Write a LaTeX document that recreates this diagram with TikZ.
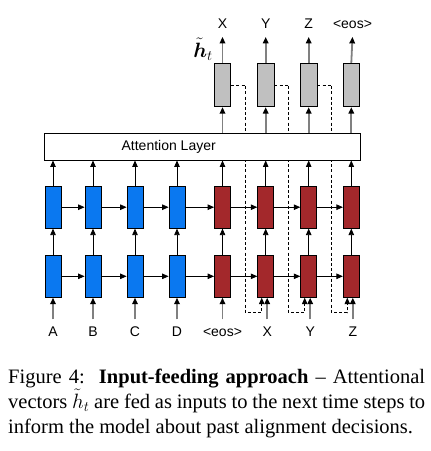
\documentclass[tikz,border=0pt]{standalone}
\usepackage{fontspec}
\usepackage{bm}
\setmainfont{Liberation Serif}
\newfontfamily\diagfont{Liberation Sans}
\usetikzlibrary{arrows.meta}
\definecolor{encblue}{HTML}{0A78F0}
\definecolor{decred}{HTML}{A3282B}
\definecolor{attgray}{HTML}{C0C0C0}
\definecolor{shaft}{HTML}{808080}
\tikzset{
  cell/.style={draw=black, line width=0.8pt, minimum width=16pt, minimum height=42pt, inner sep=0pt},
  enc/.style={cell, fill=encblue},
  dec/.style={cell, fill=decred},
  outbox/.style={cell, fill=attgray, minimum width=16.5pt, minimum height=43.5pt},
  tip/.style={-{Triangle[length=6.5pt,width=5.5pt,black]}},
  barrow/.style={tip, draw=black, line width=0.8pt},
  garrow/.style={tip, draw=shaft, line width=1.8pt},
  darrow/.style={tip, draw=black, line width=0.8pt, dash pattern=on 3pt off 2.2pt},
  dfont/.style={font=\diagfont\fontsize{14}{14}\selectfont},
  inlbl/.style={dfont, anchor=base, text height=10pt, text depth=2pt, inner xsep=1pt, inner ysep=6.5pt},
  outlbl/.style={dfont, anchor=base, text height=10pt, text depth=2pt, inner xsep=1pt, inner ysep=6.4pt},
  capline/.style={anchor=base west, inner sep=0pt, font=\fontsize{20.5}{25}\selectfont},
}
\begin{document}
\begin{tikzpicture}[x=1pt, y=-1pt]
\useasboundingbox[fill=white] (0,0) rectangle (431,451);

% columns
\foreach \n/\x/\s in {1/53/enc, 2/93/enc, 3/135/enc, 4/177/enc, 5/222.5/dec, 6/265.7/dec, 7/308.7/dec, 8/351.3/dec} {
  \node[\s] (t\n) at (\x,207.2) {};
  \node[\s] (b\n) at (\x,276.3) {};
}

% gray output boxes
\foreach \n/\x in {1/222.5, 2/265.7, 3/308.7, 4/351.3} {
  \node[outbox] (g\n) at (\x,85) {};
}

% input feeding (dashed), drawn below the attention layer
\draw[darrow] (g1.east) -- ++(14.5,0) -- ++(0,227.7) -| ([xshift=-4pt]b6.south);
\draw[darrow] (g2.east) -- ++(14.5,0) -- ++(0,227.7) -| ([xshift=-4pt]b7.south);
\draw[darrow] (g3.east) -- ++(14.5,0) -- ++(0,227.7) -| ([xshift=-4pt]b8.south);

% attention layer
\node[draw=black, line width=0.8pt, fill=white, minimum width=315.7pt, minimum height=26.7pt, inner sep=0pt] (att) at (202.2,146.7) {};
\node[dfont, inner sep=0pt] (attlbl) at (168.7,146.7) {Attention Layer};

% input labels
\node[inlbl] (i1) at (53,336) {A};
\node[inlbl] (i2) at (93,336) {B};
\node[inlbl] (i3) at (135,336) {C};
\node[inlbl] (i4) at (177,336) {D};
\node[inlbl] (i5) at (222.5,336) {<eos>};
\node[inlbl] (i6) at (267.2,336) {X};
\node[inlbl] (i7) at (310.2,336) {Y};
\node[inlbl] (i8) at (352.8,336) {Z};

% output labels
\node[outlbl] (o1) at (222.5,28.3) {X};
\node[outlbl] (o2) at (265.7,28.3) {Y};
\node[outlbl] (o3) at (308.7,28.3) {Z};
\node[outlbl] (o4) at (352.5,28.3) {<eos>};

% h tilde label
\node[anchor=base, inner sep=0pt, font=\fontsize{21}{21}\selectfont] (ht) at (203,57) {$\tilde{\bm{h}}_t$};

% input arrows
\foreach \n in {1,...,5} {
  \draw[garrow] (i\n.north) -- (b\n.south);
}
\foreach \n in {6,7,8} {
  \draw[garrow] (i\n.north) -- (i\n.north |- b\n.south);
}

% bottom to top, top to attention
\foreach \n in {1,...,8} {
  \draw[barrow] (b\n.north) -- (t\n.south);
  \draw[barrow] (t\n.north) -- (t\n.north |- att.south);
}

% horizontal recurrences
\foreach \a/\b in {1/2, 2/3, 3/4, 4/5, 5/6, 6/7, 7/8} {
  \draw[barrow] (t\a.east) -- (t\b.west);
  \draw[barrow] (b\a.east) -- (b\b.west);
}

% attention to output boxes, and outputs
\foreach \n in {1,...,4} {
  \draw[garrow] (g\n.south |- att.north) -- (g\n.south);
  \draw[garrow] (g\n.north) -- (o\n.south);
}

% caption
\node[capline] (c1) at (8,383) {\makebox[417pt][s]{Figure 4:\ \ \textbf{Input-feeding approach} – Attentional}};
\node[capline] (c2) at (8,408) {\makebox[417pt][s]{vectors $\tilde{h}_t$ are fed as inputs to the next time steps to}};
\node[capline] (c3) at (8,433) {inform the model about past alignment decisions.};
\end{tikzpicture}
\end{document}
